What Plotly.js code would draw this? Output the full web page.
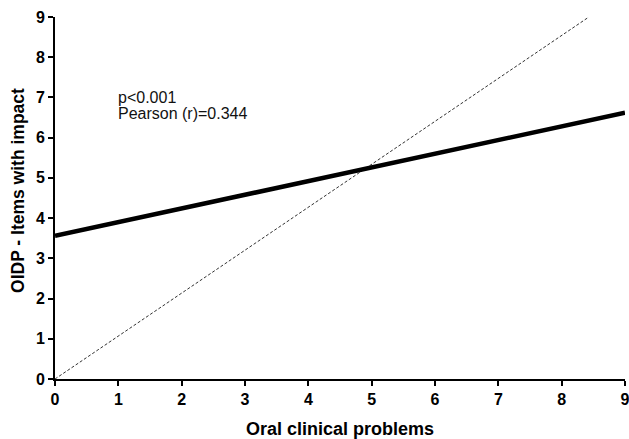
<!DOCTYPE html>
<html><head><meta charset="utf-8">
<script src="https://cdn.plot.ly/plotly-3.0.1.min.js"></script>
<style>html,body{margin:0;padding:0;background:#fff}</style>
</head><body><div id="chart" style="width:629px;height:439px"></div>
<script>
// Regression line (thick)
const fitX = [0, 9];
const fitY = [3.56, 6.62];
// Reference line (thin dashed)
const refX = [0, 8.43];
const refY = [0, 9];
const tickVals = [0,1,2,3,4,5,6,7,8,9];
const xTitle = "Oral clinical problems";
const yTitle = "OIDP - Items with impact";
const statLines = ["p<0.001", "Pearson (r)=0.344"];
const statY = [7.01, 6.59];

const fontFam = "Liberation Sans, Arial, sans-serif";
const traces = [
  {x: refX, y: refY, mode: 'lines', line: {color: '#333', width: 1, dash: '3px,2px'}, hoverinfo: 'skip', cliponaxis: false},
  {x: fitX, y: fitY, mode: 'lines', line: {color: '#000', width: 4.5}, hoverinfo: 'skip', cliponaxis: false}
];
const axisCommon = {
  range: [0, 9], tickvals: tickVals, showgrid: false, zeroline: false,
  showline: true, linecolor: '#000', linewidth: 2,
  ticks: 'outside', ticklen: 5, tickwidth: 2, tickcolor: '#000',
  tickfont: {family: fontFam, size: 16, color: '#000', weight: 'bold'},
  ticklabeloverflow: 'allow',
  fixedrange: true, automargin: false
};
const annots = statLines.map((t, i) => ({
  x: 0.97, y: statY[i], xref: 'x', yref: 'y', text: t, showarrow: false,
  xanchor: 'left', yanchor: 'middle', align: 'left',
  font: {family: fontFam, size: 16, color: '#111'}
}));
annots.push({
  x: -0.065, y: 0.522, xref: 'paper', yref: 'paper', text: yTitle, showarrow: false,
  textangle: -90, xanchor: 'center', yanchor: 'middle',
  font: {family: fontFam, size: 17.5, color: '#000', weight: 'bold'}
});
const layout = {
  width: 629, height: 439,
  margin: {l: 55, r: 4, t: 17, b: 60},
  paper_bgcolor: '#fff', plot_bgcolor: '#fff',
  showlegend: false,
  font: {family: fontFam, color: '#000'},
  xaxis: Object.assign({}, axisCommon, {
    title: {text: xTitle, font: {family: fontFam, size: 18, color: '#000', weight: 'bold'}, standoff: 16}
  }),
  yaxis: Object.assign({}, axisCommon),
  annotations: annots
};
Plotly.newPlot('chart', traces, layout, {displayModeBar: false, staticPlot: true});
</script></body></html>
